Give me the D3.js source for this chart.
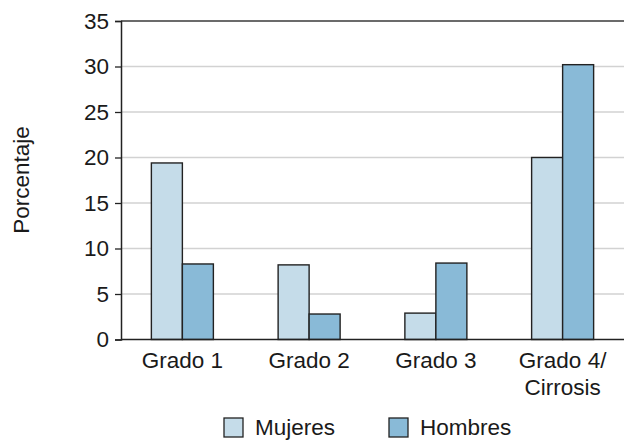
<!DOCTYPE html>
<html>
<head>
<meta charset="utf-8">
<script src="https://cdn.jsdelivr.net/npm/d3@7"></script>
<style>
  html, body { margin: 0; padding: 0; background: #fff; }
  text { font-family: "Liberation Sans", Arial, sans-serif; fill: #1a1a1a; }
</style>
</head>
<body>
<svg id="chart" width="624" height="440"></svg>
<script>
const categories = ["Grado 1", "Grado 2", "Grado 3", "Grado 4/\nCirrosis"];
const seriesNames = ["Mujeres", "Hombres"];
const mujeres = [19.4, 8.2, 2.9, 20.0];
const hombres = [8.3, 2.8, 8.4, 30.2];
const yTicks = [0, 5, 10, 15, 20, 25, 30, 35];
const colors = ["#c5dce9", "#89bad7"];

(function () {
const svg = d3.select("#chart");
const axisX = 121, mLeft = 119, mRight = 626, mTop = 21, mBottom = 339.5;
const FS = 22.5;

const x = d3.scaleBand().domain(categories).range([mLeft, mRight]).padding(0);
const sub = d3.scaleBand().domain(seriesNames).range([0, 62]).padding(0);
const y = d3.scaleLinear().domain([0, 35]).range([mBottom, mTop]);

// gridlines
svg.append("g").selectAll("line").data(yTicks.filter(t => t > 0 && t < 35)).join("line")
  .attr("x1", axisX).attr("x2", 624)
  .attr("y1", d => y(d)).attr("y2", d => y(d))
  .attr("stroke", "#d2d2d2").attr("stroke-width", 1.5);

// top line
svg.append("line").attr("x1", axisX).attr("x2", 624)
  .attr("y1", y(35)).attr("y2", y(35))
  .attr("stroke", "#3a3a3a").attr("stroke-width", 1.5);

// bars
const data = [];
categories.forEach((c, i) => {
  data.push({cat: c, s: "Mujeres", v: mujeres[i]});
  data.push({cat: c, s: "Hombres", v: hombres[i]});
});
svg.append("g").selectAll("rect").data(data).join("rect")
  .attr("x", d => x(d.cat) + x.bandwidth() / 2 - 31 + sub(d.s))
  .attr("width", sub.bandwidth())
  .attr("y", d => y(d.v))
  .attr("height", d => y(0) - y(d.v))
  .attr("fill", d => colors[seriesNames.indexOf(d.s)])
  .attr("stroke", "#222").attr("stroke-width", 1.4);

// y axis
const yAxis = d3.axisLeft(y).tickValues(yTicks).tickSize(6).tickPadding(6);
const gy = svg.append("g").attr("transform", `translate(${axisX},0)`).call(yAxis);
gy.attr("font-size", FS).attr("font-family", "Liberation Sans, Arial, sans-serif");
gy.select(".domain").attr("stroke", "#222").attr("stroke-width", 1.5);
gy.selectAll(".tick line").attr("stroke", "#222").attr("stroke-width", 1.3);
gy.selectAll(".tick text").attr("fill", "#1a1a1a");

// x baseline
svg.append("line").attr("x1", axisX).attr("x2", 624)
  .attr("y1", y(0)).attr("y2", y(0))
  .attr("stroke", "#222").attr("stroke-width", 1.5);

// x labels
const xl = svg.append("g").selectAll("text").data(categories).join("text")
  .attr("text-anchor", "middle")
  .attr("font-size", FS)
  .attr("x", d => x(d) + x.bandwidth() / 2)
  .attr("y", 368);
xl.each(function(d) {
  const lines = d.split("\n");
  d3.select(this).selectAll("tspan").data(lines).join("tspan")
    .attr("x", x(d) + x.bandwidth() / 2)
    .attr("dy", (l, i) => i === 0 ? 0 : 27)
    .text(l => l);
});

// y label
svg.append("text")
  .attr("transform", "translate(29,180) rotate(-90)")
  .attr("text-anchor", "middle")
  .attr("font-size", FS)
  .text("Porcentaje");

// legend
const legendX = [224, 389];
const lg = svg.append("g").selectAll("g").data(seriesNames).join("g")
  .attr("transform", (d, i) => `translate(${legendX[i]},418)`);
lg.append("rect").attr("width", 19).attr("height", 19)
  .attr("fill", (d, i) => colors[i]).attr("stroke", "#222").attr("stroke-width", 1.3);
lg.append("text").attr("x", 31).attr("y", 17).attr("font-size", FS).text(d => d);
})();
</script>
</body>
</html>
